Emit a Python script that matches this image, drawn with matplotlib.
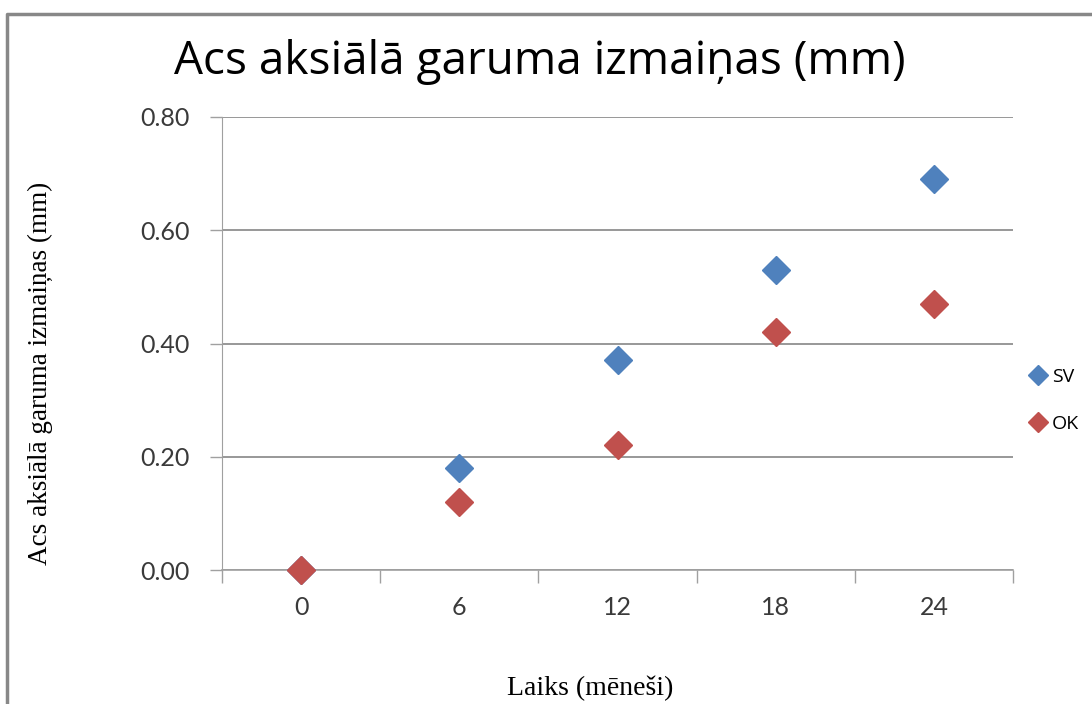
import matplotlib.pyplot as plt
from matplotlib.lines import Line2D

# Dati
laiks = ['0', '6', '12', '18', '24']
sv = [0.00, 0.18, 0.37, 0.53, 0.69]
ok = [0.00, 0.12, 0.22, 0.42, 0.47]
y_ticks = [0.0, 0.2, 0.4, 0.6, 0.8]

fig = plt.figure(figsize=(10.92, 7.04), dpi=100)
ax = fig.add_axes([222 / 1092, 1 - 570 / 704, (1013 - 222) / 1092, (570 - 117) / 704])

x = list(range(len(laiks)))
ax.plot(x, sv, 'D', color='#4F81BD', markersize=14, label='SV', zorder=3, clip_on=False)
ax.plot(x, ok, 'D', color='#C0504D', markersize=14, label='OK', zorder=3, clip_on=False)

ax.set_xlim(-0.5, len(laiks) - 0.5)
ax.set_ylim(0, 0.8)

# asis un režģis
ax.set_yticks(y_ticks)
ax.set_yticklabels(['%.2f' % v for v in y_ticks])
ax.set_xticks(x)
ax.set_xticklabels(laiks)
ax.set_xticks([i - 0.5 for i in range(len(laiks) + 1)], minor=True)
ax.tick_params(axis='x', which='major', length=0, pad=19, labelsize=18, labelcolor='#3a3a3a')
ax.tick_params(axis='x', which='minor', length=9, width=1, color='#a0a0a0', direction='out')
ax.tick_params(axis='y', length=9, width=1, color='#a0a0a0', pad=14, labelsize=18, labelcolor='#3a3a3a')
for lbl in ax.get_xticklabels() + ax.get_yticklabels():
    lbl.set_family('Lato')
ax.grid(axis='y', color='#868686', linewidth=1.2)
ax.set_axisbelow(True)
for s in ['top', 'right']:
    ax.spines[s].set_visible(False)
ax.spines['left'].set_color('#a0a0a0')
ax.spines['bottom'].set_color('#a0a0a0')
ax.spines['bottom'].set_linewidth(1.2)

fig.text(540 / 1092, 1 - 62 / 704, 'Acs aksiālā garuma izmaiņas (mm)', ha='center', va='center',
         fontsize=33, family='Open Sans', color='black')
fig.text(40 / 1092, 1 - 373 / 704, 'Acs aksiālā garuma izmaiņas (mm)', ha='center', va='center',
         rotation=90, fontsize=19.5, family='Liberation Serif', color='black')
fig.text(590 / 1092, 1 - 688 / 704, 'Laiks (mēneši)', ha='center', va='center',
         fontsize=20, family='Liberation Serif', color='black')

leg = ax.legend(loc='center left', bbox_to_anchor=(1.0, 0.375), frameon=False, fontsize=14,
                handlelength=0.6, handletextpad=0.4, labelspacing=1.5, markerscale=0.7,
                borderaxespad=0.6)
for t in leg.get_texts():
    t.set_family('Open Sans')

# rāmis ap diagrammu
fig.add_artist(Line2D([7 / 1092, 7 / 1092, 1.0], [0.0, 1 - 14 / 704, 1 - 14 / 704],
                      transform=fig.transFigure, color='#888888', linewidth=2.5))

fig.savefig('out.png', dpi=100)
